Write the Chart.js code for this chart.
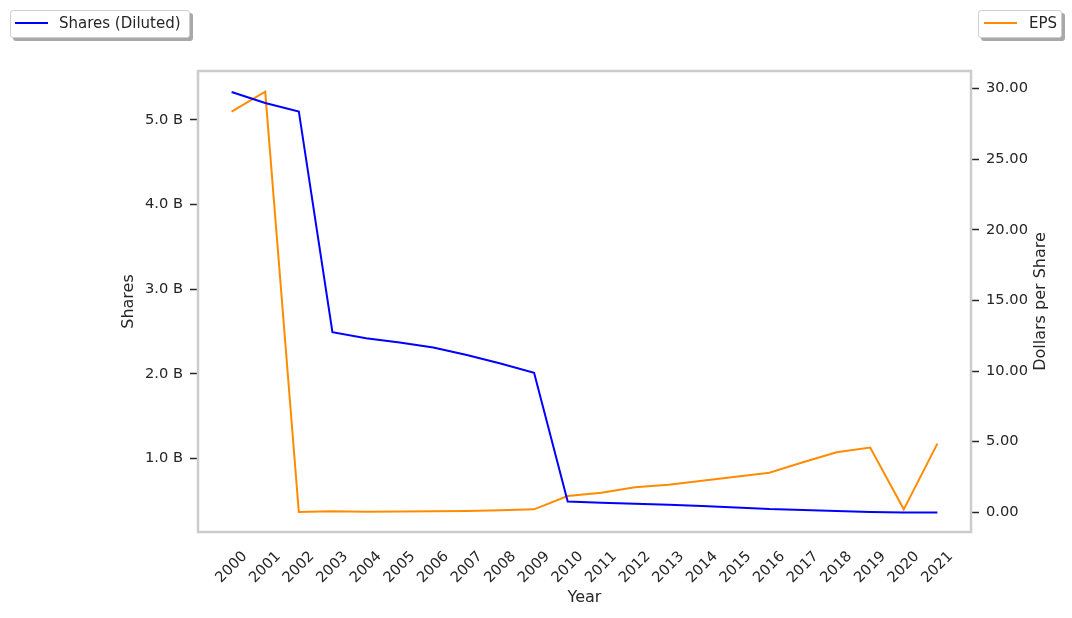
<!DOCTYPE html>
<html>
<head>
<meta charset="utf-8">
<script src="https://cdn.jsdelivr.net/npm/chart.js@4/dist/chart.umd.min.js"></script>
<style>
  body { margin: 0; background: #fff; }
  #wrap { position: relative; width: 1072px; height: 618px; }
  .lg {
    position: absolute; top: 10px; height: 28px; box-sizing: border-box; padding-bottom: 2px;
    border: 1px solid #cfcfcf; border-radius: 3px; background: #fff;
    box-shadow: 3px 3px 0 #a8a8a8;
    font: 15px 'DejaVu Sans', sans-serif; color: #262626;
    display: flex; align-items: center; white-space: nowrap;
  }
  .lg .sw { display: inline-block; width: 33px; height: 2px; margin: 0 11px 0 4px; }
</style>
</head>
<body>
<div id="wrap">
  <canvas id="chart"></canvas>
  <div class="lg" style="left:10px;width:180px"><span class="sw" style="background:#0000ff"></span><span>Shares (Diluted)</span></div>
  <div class="lg" style="left:978px;width:84px"><span class="sw" style="background:#ff8c00;margin-left:5px;margin-right:12px"></span><span>EPS</span></div>
</div>
<script>
var years = ['2000', '2001', '2002', '2003', '2004', '2005', '2006', '2007', '2008', '2009', '2010',
             '2011', '2012', '2013', '2014', '2015', '2016', '2017', '2018', '2019', '2020', '2021'];
var sharesDiluted = [5.33e9, 5.20e9, 5.10e9, 2.49e9, 2.42e9, 2.37e9, 2.31e9, 2.22e9, 2.12e9, 2.01e9, 0.49e9,
                     0.475e9, 0.463e9, 0.45e9, 0.436e9, 0.42e9, 0.40e9, 0.39e9, 0.377e9, 0.365e9, 0.36e9, 0.36e9];
var eps = [28.37, 29.79, 0.02, 0.07, 0.04, 0.06, 0.08, 0.10, 0.14, 0.21, 1.15,
           1.39, 1.77, 1.95, 2.24, 2.52, 2.80, 3.54, 4.25, 4.58, 0.21, 4.86];
var shareTicks = [1e9, 2e9, 3e9, 4e9, 5e9];
var epsTicks = [0, 5, 10, 15, 20, 25, 30];

var textColor = '#262626';
var font = 'DejaVu Sans';
var tickSize = 14.67;
var titleSize = 16;

// grey frame round the plot, drawn over the lines like matplotlib spines
var frame = {
    id: 'frame',
    afterDatasetsDraw: function (chart) {
        var a = chart.chartArea, ctx = chart.ctx;
        ctx.save();
        ctx.strokeStyle = '#cccccc';
        ctx.lineWidth = 2.5;
        ctx.strokeRect(a.left, a.top, a.right - a.left, a.bottom - a.top);
        ctx.restore();
    }
};

// right axis title reads upward, Chart.js would turn it the other way
var rightTitle = {
    id: 'rightTitle',
    afterDraw: function (chart) {
        var a = chart.chartArea, ctx = chart.ctx;
        ctx.save();
        ctx.translate(1041, (a.top + a.bottom) / 2);
        ctx.rotate(-Math.PI / 2);
        ctx.font = titleSize + 'px "' + font + '"';
        ctx.fillStyle = textColor;
        ctx.textAlign = 'center';
        ctx.textBaseline = 'middle';
        ctx.fillText('Dollars per Share', 0, 0);
        ctx.restore();
    }
};

var yGrid = { display: true, drawOnChartArea: false, drawTicks: true, tickLength: 8, tickColor: textColor, tickWidth: 1.5 };

new Chart(document.getElementById('chart'), {
    type: 'line',
    data: {
        datasets: [{
            label: 'Shares (Diluted)',
            data: sharesDiluted.map(function (v, i) { return { x: i, y: v }; }),
            borderColor: '#0000ff',
            borderWidth: 2,
            pointRadius: 0,
            tension: 0,
            yAxisID: 'y'
        }, {
            label: 'EPS',
            data: eps.map(function (v, i) { return { x: i, y: v }; }),
            borderColor: '#ff8c00',
            borderWidth: 2,
            pointRadius: 0,
            tension: 0,
            yAxisID: 'y1'
        }]
    },
    options: {
        responsive: true,
        maintainAspectRatio: false,
        animation: false,
        layout: { padding: { top: 71, left: 119, right: 22, bottom: 11 } },
        plugins: { legend: { display: false }, tooltip: { enabled: false } },
        scales: {
            x: {
                type: 'linear',
                min: -1,
                max: 22,
                afterBuildTicks: function (s) { s.ticks = years.map(function (y, i) { return { value: i }; }); },
                afterFit: function (s) { s.height = 75; },
                grid: { display: false, drawTicks: false },
                border: { display: false },
                ticks: {
                    autoSkip: false,
                    minRotation: 45,
                    maxRotation: 45,
                    labelOffset: 13.2,
                    padding: 16,
                    color: textColor,
                    font: { family: font, size: tickSize },
                    callback: function (v) { return years[v]; }
                },
                title: { display: true, text: 'Year', padding: 0, color: textColor, font: { family: font, size: titleSize } }
            },
            y: {
                position: 'left',
                min: 0.129e9,
                max: 5.578e9,
                afterBuildTicks: function (s) { s.ticks = shareTicks.map(function (v) { return { value: v }; }); },
                afterFit: function (s) { s.width = 79; },
                grid: yGrid,
                border: { display: false },
                ticks: {
                    padding: 7,
                    color: textColor,
                    font: { family: font, size: tickSize },
                    callback: function (v) { return (v / 1e9).toFixed(1) + ' B'; }
                },
                title: { display: true, text: 'Shares', padding: 0, color: textColor, font: { family: font, size: titleSize } }
            },
            y1: {
                position: 'right',
                min: -1.395,
                max: 31.25,
                afterBuildTicks: function (s) { s.ticks = epsTicks.map(function (v) { return { value: v }; }); },
                afterFit: function (s) { s.width = 79; },
                grid: yGrid,
                border: { display: false },
                ticks: {
                    padding: 7,
                    color: textColor,
                    font: { family: font, size: tickSize },
                    callback: function (v) { return v.toFixed(2); }
                }
            }
        }
    },
    plugins: [frame, rightTitle]
});
</script>
</body>
</html>
